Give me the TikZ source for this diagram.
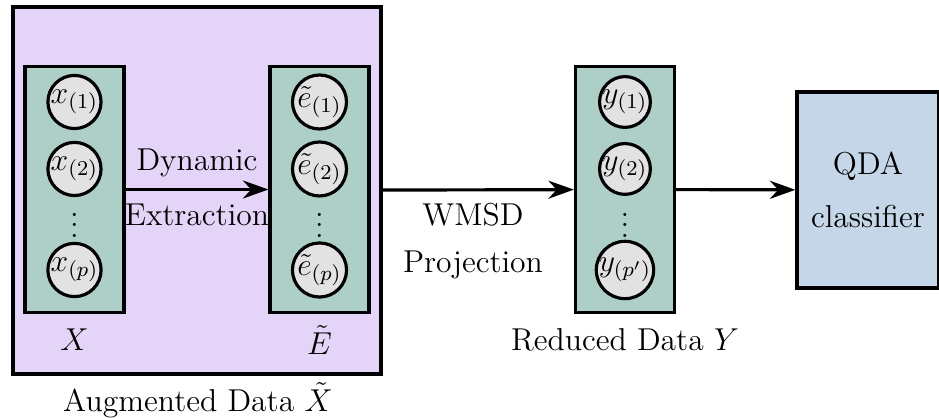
\documentclass[tikz,border=0pt]{standalone}
\usepackage{amsmath}
\usepackage{amssymb}
\usetikzlibrary{arrows.meta, positioning}
\definecolor{augpurple}{RGB}{228, 212, 248}
\definecolor{colteal}{RGB}{173, 207, 200}
\definecolor{nodegray}{RGB}{226, 226, 226}
\definecolor{qdablue}{RGB}{196, 214, 232}

\begin{document}
\begin{tikzpicture}[
    font=\fontsize{12pt}{14pt}\selectfont,
    outer/.style={rectangle, draw, line width=1.2pt, fill=augpurple, minimum width=4.907cm, minimum height=4.893cm},
    column/.style={rectangle, draw, line width=1.2pt, fill=colteal, minimum width=1.32cm, minimum height=3.27cm},
    var/.style={circle, draw, line width=1.2pt, fill=nodegray, minimum size=0.667cm, inner sep=0pt},
    qda/.style={rectangle, draw, line width=1.2pt, fill=qdablue, minimum width=1.893cm, minimum height=2.613cm, align=center},
    arrow/.style={-{Stealth[length=3.4mm, width=2.4mm]}, line width=1.2pt}
]
    \useasboundingbox (0, 0) rectangle (12.52, -5.573);

    % Augmented data box
    \node[outer] (aug) at (2.627, -2.54) {};
    \node (auglabel) at (2.64, -5.333) {Augmented Data $\tilde{X}$};

    % Columns
    \node[column] (colX) at (0.993, -2.527) {};
    \node[column] (colE) at (4.26, -2.527) {};
    \node[column] (colY) at (8.333, -2.527) {};

    % Column entries
    \node[var] (x1) at (0.993, -1.36) {$x_{(1)}$};
    \node[var] (x2) at (0.993, -2.253) {$x_{(2)}$};
    \node (xdots) at (0.993, -2.9) {$\vdots$};
    \node[var] (xp) at (0.993, -3.6) {$x_{(p)}$};

    \node[var] (e1) at (4.26, -1.36) {$\tilde{e}_{(1)}$};
    \node[var] (e2) at (4.26, -2.253) {$\tilde{e}_{(2)}$};
    \node (edots) at (4.26, -2.9) {$\vdots$};
    \node[var] (ep) at (4.26, -3.6) {$\tilde{e}_{(p)}$};

    \node[var] (y1) at (8.333, -1.36) {$y_{(1)}$};
    \node[var] (y2) at (8.333, -2.253) {$y_{(2)}$};
    \node (ydots) at (8.333, -2.9) {$\vdots$};
    \node[var] (yp) at (8.333, -3.6) {$y_{(p')}$};

    % Column labels
    \node (xlabel) at (0.993, -4.533) {$X$};
    \node (elabel) at (4.26, -4.533) {$\tilde{E}$};
    \node (ylabel) at (8.333, -4.533) {Reduced Data $Y$};

    % Classifier
    \node[qda] (qda) at (11.573, -2.533) {QDA\\[6pt]classifier};

    % Flow arrows
    \draw[arrow] (colX) -- (colE);
    \draw[arrow] (aug) -- (colY);
    \draw[arrow] (colY) -- (qda);

    % Arrow labels
    \node (dyn) at (2.627, -2.173) {Dynamic};
    \node (extr) at (2.627, -2.867) {Extraction};
    \node (wmsd) at (6.307, -2.867) {WMSD};
    \node (proj) at (6.307, -3.533) {Projection};

\end{tikzpicture}
\end{document}
